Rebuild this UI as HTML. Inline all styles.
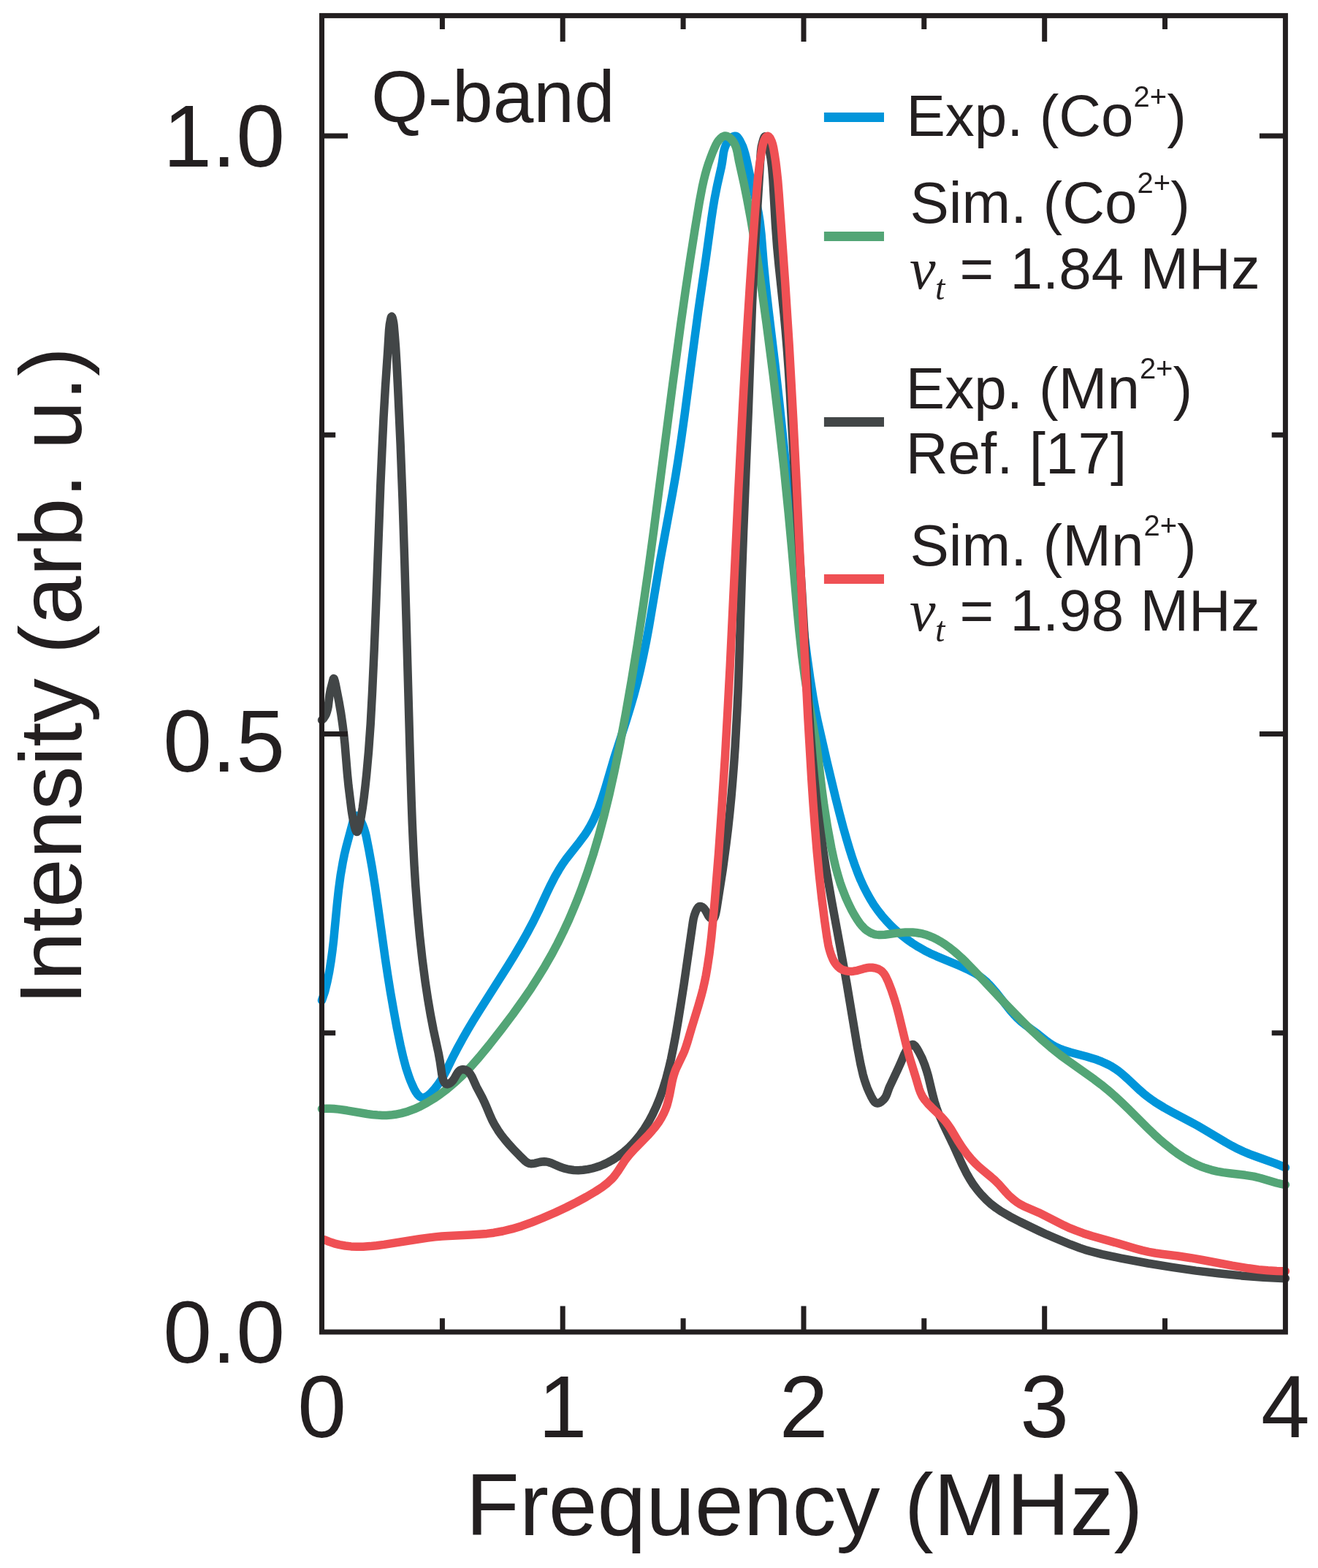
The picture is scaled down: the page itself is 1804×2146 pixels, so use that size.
<!DOCTYPE html>
<html lang="en"><head><meta charset="utf-8"><title>Q-band spectrum</title>
<style>html,body{margin:0;padding:0;background:#fff}body{width:1804px;height:2146px;overflow:hidden}svg{display:block}text{font-family:"Liberation Sans",Arial,Helvetica,sans-serif;fill:#231f20}.it{font-family:"Liberation Serif","Times New Roman",serif;font-style:italic}</style></head><body>
<svg xmlns="http://www.w3.org/2000/svg" width="1804" height="2146" viewBox="0 0 1804 2146">
<rect width="1804" height="2146" fill="#fff"/>
<g fill="none" stroke-width="11.5" stroke-linejoin="round" stroke-linecap="round">
<path stroke="#0095da" d="M440.5 1369.2L444.7 1356.9 447.9 1343.7 450.7 1329.9 453.1 1315.0 454.9 1301.8 456.6 1287.3 461.4 1237.0 463.5 1217.7 466.1 1198.2 469.1 1180.9 471.4 1169.5 474.2 1157.9 483.7 1122.6 485.1 1119.1 485.8 1117.8 486.4 1117.0 487.2 1116.5 488.0 1116.3 488.7 1116.5 489.6 1117.1 491.5 1119.5 494.1 1124.0 496.3 1128.7 498.2 1133.8 499.8 1139.0 501.3 1144.8 504.9 1163.2 509.2 1187.0 513.4 1213.3 517.1 1239.1 527.1 1310.6 530.7 1334.6 534.3 1357.1 538.8 1382.8 543.3 1407.2 548.0 1430.2 552.0 1447.5 555.9 1461.9 559.7 1473.4 562.1 1479.7 564.9 1486.1 567.1 1490.9 569.2 1494.5 571.1 1497.3 573.0 1499.4 574.8 1501.0 576.6 1502.0 578.5 1502.4 580.4 1502.2 582.4 1501.5 584.6 1500.2 586.7 1498.7 589.1 1496.6 594.3 1491.0 599.5 1484.4 604.2 1477.3 607.3 1472.1 610.3 1466.4 620.2 1446.1 626.2 1434.5 632.8 1422.4 640.1 1409.7 647.7 1396.9 656.5 1382.7 695.3 1321.6 704.0 1307.4 711.8 1294.3 721.3 1277.5 729.7 1261.7 736.7 1247.5 748.7 1221.6 753.8 1211.1 759.4 1200.2 764.8 1190.8 769.7 1183.0 774.8 1175.8 780.1 1168.9 793.7 1151.7 800.5 1142.5 803.8 1137.5 806.9 1132.3 809.9 1126.9 812.8 1121.1 815.9 1114.2 819.0 1106.9 821.9 1099.0 824.8 1090.3 828.8 1077.7 840.6 1037.6 857.2 986.2 862.7 968.3 867.8 950.9 872.2 934.3 876.5 916.3 880.7 897.1 884.6 877.8 888.5 856.6 903.4 768.2 920.7 674.3 924.6 652.1 928.3 628.9 932.6 600.0 937.1 567.6 950.8 462.9 955.8 425.5 966.4 352.5 973.6 300.4 975.8 285.6 978.0 272.4 981.6 254.0 987.4 228.2 988.6 221.5 990.3 209.2 991.1 205.6 992.0 202.4 993.2 199.2 994.8 196.1 996.6 193.3 998.5 190.9 1000.7 188.7 1003.0 187.1 1005.1 186.2 1006.8 186.2 1008.2 186.7 1009.8 188.1 1011.3 190.1 1013.0 193.0 1014.9 196.8 1016.6 200.5 1018.1 204.7 1019.5 209.3 1021.6 217.5 1026.5 240.3 1035.6 278.6 1038.2 291.4 1040.0 302.8 1042.0 320.3 1045.3 361.5 1048.2 391.6 1051.7 422.4 1060.7 497.2 1066.3 546.8 1072.5 605.8 1086.6 741.9 1093.5 806.2 1099.2 855.0 1104.7 898.8 1108.9 928.9 1113.1 955.1 1116.2 972.3 1119.5 988.4 1132.0 1043.1 1144.0 1093.2 1149.2 1113.7 1154.2 1132.6 1158.7 1148.3 1162.9 1162.5 1166.7 1174.4 1170.4 1185.1 1174.2 1195.2 1178.1 1204.7 1182.2 1213.6 1186.5 1222.0 1191.1 1230.3 1196.0 1238.2 1201.3 1245.7 1206.9 1252.9 1213.0 1260.0 1219.4 1266.8 1226.2 1273.2 1233.5 1279.5 1241.2 1285.5 1249.0 1291.0 1257.1 1296.1 1265.4 1300.8 1273.0 1304.7 1281.7 1308.6 1312.1 1321.3 1323.7 1326.4 1329.0 1329.1 1333.9 1331.7 1338.3 1334.4 1342.3 1337.2 1346.0 1340.1 1349.9 1343.4 1353.7 1347.2 1357.6 1351.4 1364.7 1359.8 1377.6 1376.3 1382.7 1382.7 1388.2 1389.0 1393.5 1394.4 1397.7 1398.3 1402.5 1402.1 1420.5 1415.2 1432.7 1425.0 1437.6 1428.5 1441.5 1430.9 1445.5 1433.0 1450.0 1435.0 1454.9 1436.9 1465.3 1440.2 1487.1 1446.0 1496.8 1448.9 1502.4 1450.8 1507.8 1452.9 1512.9 1455.2 1517.7 1457.5 1522.3 1460.1 1526.7 1462.9 1530.8 1465.8 1535.2 1469.2 1543.0 1476.1 1560.7 1492.7 1565.3 1496.7 1570.1 1500.5 1575.3 1504.4 1580.9 1508.3 1586.9 1512.0 1593.4 1516.0 1605.1 1522.5 1629.0 1535.1 1639.0 1540.5 1649.2 1546.4 1677.3 1563.3 1686.1 1568.2 1694.0 1572.3 1701.9 1576.0 1710.5 1579.6 1719.7 1583.0 1745.1 1592.1 1752.8 1595.1 1759.4 1597.9"/>
<path stroke="#53a576" d="M440.5 1517.6L445.8 1517.3 451.2 1517.2 457.1 1517.5 463.3 1518.1 474.9 1519.8 502.5 1524.5 509.8 1525.5 516.5 1526.1 523.0 1526.5 529.1 1526.5 534.9 1526.1 540.9 1525.3 549.4 1523.6 558.1 1521.2 566.9 1517.9 575.7 1513.9 584.6 1509.2 593.7 1503.7 602.7 1497.5 611.8 1490.6 622.7 1481.4 633.5 1471.2 644.6 1459.7 655.9 1446.9 669.4 1430.5 686.3 1408.9 702.0 1388.1 715.9 1368.7 726.9 1352.7 736.8 1337.2 746.0 1322.2 754.6 1307.2 762.9 1291.6 770.9 1275.5 778.6 1259.0 785.9 1241.8 790.5 1230.5 795.0 1218.9 803.6 1195.0 811.8 1170.0 819.5 1144.0 826.8 1116.6 833.9 1087.6 840.8 1056.5 847.8 1022.6 856.2 978.0 864.4 931.2 872.4 882.1 880.3 829.6 887.4 780.4 894.8 726.0 920.7 526.0 931.8 443.6 938.2 398.4 944.6 355.5 951.1 314.1 957.4 276.1 961.2 256.0 963.1 247.4 965.1 239.4 967.2 231.8 969.5 224.4 972.1 217.1 974.8 209.9 977.6 203.2 979.8 198.5 981.6 195.1 983.7 192.1 986.2 189.4 988.6 187.4 989.9 186.7 991.1 186.2 992.3 186.0 993.4 186.0 995.5 186.6 997.8 187.8 1000.0 189.6 1002.3 192.0 1004.1 194.6 1005.7 197.5 1007.1 200.6 1008.2 204.1 1009.3 208.7 1011.7 221.6 1018.3 251.3 1022.4 271.7 1027.6 299.4 1032.6 329.2 1036.4 353.1 1040.3 379.0 1049.3 444.3 1058.3 513.6 1066.4 581.5 1073.2 642.0 1079.2 701.8 1083.9 752.1 1090.9 832.2 1093.9 863.3 1097.6 897.2 1101.7 927.9 1106.1 955.9 1113.9 998.3 1116.9 1015.7 1119.6 1035.1 1124.9 1080.2 1127.9 1102.5 1132.5 1131.3 1137.9 1160.4 1140.8 1173.9 1143.7 1186.3 1146.8 1197.5 1150.0 1208.2 1153.6 1218.2 1157.4 1227.8 1161.5 1237.0 1165.8 1245.7 1169.6 1252.5 1173.3 1258.5 1176.6 1263.3 1179.9 1267.3 1183.3 1270.9 1186.8 1273.7 1190.4 1276.0 1194.1 1277.7 1196.6 1278.6 1199.1 1279.1 1202.0 1279.4 1205.0 1279.5 1211.1 1279.2 1228.7 1276.9 1239.2 1276.1 1244.5 1276.0 1249.4 1276.1 1254.1 1276.5 1258.6 1277.2 1263.4 1278.2 1268.2 1279.6 1273.1 1281.4 1278.1 1283.6 1283.2 1286.2 1288.5 1289.2 1293.7 1292.6 1298.8 1296.3 1304.4 1300.7 1310.1 1305.5 1316.1 1310.9 1322.5 1317.2 1339.0 1334.3 1375.3 1372.9 1391.4 1389.6 1408.8 1407.0 1424.7 1421.9 1438.4 1433.7 1451.9 1444.5 1464.5 1453.7 1497.8 1477.3 1507.4 1484.6 1515.9 1491.4 1525.2 1499.5 1535.2 1508.8 1545.2 1518.4 1571.4 1544.5 1579.4 1552.2 1586.6 1558.8 1595.1 1566.1 1603.2 1572.6 1611.1 1578.4 1618.7 1583.6 1628.5 1589.3 1633.5 1591.9 1638.4 1594.2 1643.2 1596.3 1648.2 1598.1 1653.3 1599.8 1658.3 1601.3 1665.8 1603.1 1674.2 1604.6 1682.7 1605.7 1704.4 1608.3 1716.0 1610.2 1725.5 1612.5 1747.4 1619.0 1753.5 1620.4 1759.4 1621.5"/>
<path stroke="#424647" d="M440.5 985.5L442.9 983.1 444.8 980.2 446.4 977.2 447.6 973.6 448.4 970.5 449.2 966.7 451.0 951.4 452.4 944.2 456.2 929.4 456.7 928.6 457.0 928.7 457.4 929.4 458.2 931.9 459.2 936.2 464.2 961.7 466.7 976.3 468.9 991.6 470.6 1004.9 472.0 1018.2 475.4 1059.4 477.0 1075.5 481.1 1108.6 482.3 1116.1 483.6 1123.3 485.2 1130.9 486.6 1135.5 487.7 1138.0 488.3 1138.4 488.8 1138.4 489.4 1137.7 490.0 1136.6 491.2 1132.6 492.8 1125.6 494.6 1115.9 496.3 1105.3 498.2 1091.2 500.0 1075.9 501.7 1059.9 504.6 1027.4 507.2 990.8 509.5 948.0 512.2 889.1 514.6 829.8 520.8 664.1 523.0 614.4 525.0 572.1 527.4 530.2 530.9 478.3 532.5 452.2 533.3 444.4 534.7 436.9 535.2 434.7 535.7 433.6 536.1 433.2 536.5 433.5 537.1 434.8 537.8 437.4 538.6 441.3 539.1 445.0 540.4 459.9 541.6 475.6 542.9 497.0 544.6 531.0 548.1 607.7 551.0 683.2 553.7 767.2 556.1 849.7 561.3 1036.1 563.1 1094.6 564.3 1127.2 565.6 1156.4 567.0 1184.0 568.6 1210.0 571.3 1245.8 574.4 1280.0 578.0 1312.6 582.1 1344.1 585.6 1367.1 589.3 1388.7 593.2 1409.1 600.2 1441.4 602.2 1452.4 604.7 1469.7 605.5 1473.8 606.3 1476.9 607.6 1480.3 608.4 1481.6 609.3 1482.7 610.3 1483.4 611.2 1483.8 612.2 1483.9 613.3 1483.7 614.7 1483.2 616.5 1482.0 618.2 1480.6 619.6 1479.1 621.8 1476.0 625.0 1470.4 626.5 1468.0 628.0 1466.2 629.8 1464.7 631.1 1464.1 632.5 1463.8 634.0 1463.7 635.8 1463.9 637.1 1464.3 638.7 1465.0 640.1 1465.9 641.4 1467.0 643.8 1470.0 646.2 1474.2 652.3 1487.6 660.1 1502.3 662.7 1507.7 665.2 1513.3 670.8 1526.7 673.6 1533.0 677.4 1540.1 681.7 1547.1 686.0 1553.3 690.9 1559.5 696.4 1566.0 702.7 1572.8 710.9 1581.3 718.1 1588.4 721.4 1591.0 722.9 1591.8 724.4 1592.3 726.6 1592.7 729.1 1592.6 732.1 1592.1 738.6 1590.5 741.7 1590.0 744.7 1589.8 748.0 1590.0 751.1 1590.7 754.5 1591.8 766.5 1597.0 771.8 1598.9 778.4 1600.5 785.4 1601.5 791.5 1601.7 798.0 1601.3 804.5 1600.4 810.9 1599.0 815.2 1597.8 819.8 1596.3 824.3 1594.5 828.7 1592.6 833.1 1590.4 837.5 1588.0 841.9 1585.3 846.1 1582.5 850.2 1579.5 854.1 1576.4 857.9 1573.2 861.7 1569.6 865.4 1565.9 869.0 1562.0 875.8 1553.7 881.9 1545.1 887.7 1535.6 893.1 1525.5 898.3 1514.4 903.0 1502.9 907.5 1490.2 911.6 1476.9 915.3 1462.8 918.5 1449.2 921.5 1434.4 924.8 1417.2 928.5 1395.5 932.2 1372.4 936.2 1346.7 948.2 1263.3 949.2 1257.4 950.4 1252.8 952.3 1247.5 953.5 1245.0 954.8 1242.9 955.7 1241.7 956.8 1240.9 957.7 1240.4 958.7 1240.4 960.0 1240.8 961.4 1241.5 962.8 1242.6 964.2 1244.0 966.0 1246.5 969.5 1253.2 971.0 1255.1 972.7 1256.7 974.3 1257.7 975.1 1257.9 975.8 1257.9 976.4 1257.6 977.0 1257.0 977.9 1255.5 978.7 1253.4 979.6 1250.3 980.9 1243.7 989.3 1189.8 994.0 1154.8 996.5 1134.2 998.8 1113.0 1000.9 1091.4 1002.8 1069.0 1004.6 1045.9 1006.2 1022.0 1009.0 970.8 1010.5 938.5 1011.8 902.6 1015.7 779.5 1017.6 727.6 1024.3 562.3 1029.4 419.5 1031.0 382.4 1032.7 349.3 1041.4 207.5 1042.3 200.6 1043.9 194.1 1045.0 190.5 1046.0 188.0 1046.8 186.9 1047.1 186.7 1047.5 186.7 1048.3 187.8 1049.3 190.6 1051.2 197.5 1052.8 204.3 1055.0 216.1 1056.6 228.8 1057.9 245.2 1061.4 307.1 1063.7 338.3 1066.2 364.8 1073.1 429.8 1075.2 452.7 1077.2 476.7 1079.3 505.6 1081.3 537.5 1088.6 667.1 1097.6 809.6 1104.1 922.8 1106.8 966.3 1109.1 1000.7 1111.6 1032.3 1114.3 1061.8 1117.1 1089.8 1120.0 1115.2 1123.2 1139.5 1126.6 1163.0 1130.5 1188.2 1138.4 1233.4 1153.3 1314.2 1158.9 1345.4 1173.7 1434.3 1177.9 1456.4 1181.2 1470.8 1183.1 1477.4 1185.1 1483.6 1187.2 1489.3 1189.6 1494.8 1192.4 1500.6 1195.3 1505.8 1197.1 1508.1 1198.9 1509.5 1200.1 1509.9 1201.1 1510.0 1202.1 1509.9 1203.5 1509.4 1206.3 1507.8 1209.1 1505.3 1211.4 1502.5 1213.1 1499.4 1214.2 1496.7 1216.5 1490.1 1218.2 1486.1 1229.2 1462.8 1233.3 1453.6 1237.6 1443.4 1239.6 1439.5 1242.6 1434.7 1244.1 1432.8 1245.5 1431.5 1246.9 1430.4 1248.3 1429.7 1249.4 1429.6 1250.5 1429.9 1251.9 1430.9 1253.4 1432.6 1255.0 1435.0 1257.6 1439.5 1262.1 1448.4 1265.7 1457.4 1268.1 1464.6 1270.4 1472.4 1276.6 1498.3 1279.1 1507.8 1281.9 1516.6 1285.2 1525.4 1290.9 1538.0 1304.2 1565.7 1316.6 1593.1 1322.4 1604.8 1327.4 1613.6 1332.3 1621.3 1337.8 1628.6 1343.7 1635.6 1349.9 1642.0 1356.4 1647.9 1363.5 1653.3 1371.1 1658.4 1382.1 1664.8 1395.9 1672.0 1422.8 1685.0 1432.7 1689.6 1441.9 1693.6 1465.2 1703.2 1478.3 1708.1 1485.1 1710.4 1492.3 1712.5 1508.3 1716.6 1520.1 1719.2 1534.4 1722.1 1571.3 1729.0 1604.3 1734.4 1636.9 1739.1 1668.0 1742.8 1699.0 1745.9 1729.4 1748.2 1759.4 1749.7"/>
<path stroke="#ef5054" d="M443.5 1696.5L450.4 1699.4 457.6 1701.8 464.9 1703.6 472.5 1705.0 480.4 1705.9 488.5 1706.3 497.2 1706.2 506.5 1705.6 515.4 1704.7 525.7 1703.4 574.0 1695.7 585.4 1694.1 595.5 1692.9 604.7 1692.0 613.9 1691.4 644.6 1690.0 655.7 1689.3 666.4 1688.4 675.9 1687.2 688.0 1685.0 700.7 1681.9 714.1 1677.9 728.1 1672.8 742.7 1667.0 759.5 1659.7 775.0 1652.5 789.1 1645.4 802.5 1638.1 815.2 1630.6 824.2 1624.7 831.5 1619.1 837.2 1613.8 839.5 1611.3 841.8 1608.5 845.7 1603.1 854.9 1588.8 858.1 1584.5 861.7 1580.1 869.4 1571.7 888.2 1552.4 892.8 1547.2 896.7 1542.5 901.1 1536.6 904.8 1530.7 908.1 1524.6 910.9 1518.4 913.0 1512.5 914.8 1505.8 916.4 1498.8 919.9 1480.6 921.2 1475.2 922.6 1470.4 924.0 1466.2 925.7 1461.9 934.9 1442.8 936.9 1438.2 938.7 1433.1 940.9 1426.4 946.7 1406.6 955.7 1377.3 960.1 1361.9 962.3 1353.3 964.3 1344.5 966.2 1335.3 967.9 1325.6 971.0 1305.1 973.8 1281.8 975.7 1261.8 978.5 1230.8 983.6 1167.6 988.1 1103.5 992.5 1034.9 995.8 975.7 999.3 910.2 1010.8 668.9 1016.5 558.5 1019.8 499.3 1023.1 443.0 1026.5 389.2 1030.0 337.4 1033.4 291.2 1035.8 260.9 1037.7 240.8 1039.9 223.1 1042.7 205.2 1043.7 199.6 1044.7 195.7 1046.0 192.0 1047.7 188.8 1049.2 187.0 1050.1 186.5 1050.8 186.3 1051.7 186.6 1052.5 187.2 1053.5 188.2 1054.4 189.6 1056.1 193.2 1057.5 197.3 1058.6 202.1 1060.3 211.8 1061.7 221.0 1062.9 230.8 1064.6 246.3 1066.1 264.7 1074.6 385.4 1080.3 474.0 1085.7 572.0 1090.4 665.1 1100.6 880.4 1105.9 983.2 1110.8 1066.6 1113.0 1099.9 1115.3 1130.4 1118.2 1165.5 1121.4 1198.5 1124.9 1230.1 1128.7 1260.3 1131.9 1282.6 1133.8 1293.6 1135.0 1298.6 1136.4 1303.4 1137.9 1307.8 1139.6 1311.9 1141.2 1315.2 1142.9 1318.0 1144.7 1320.5 1146.7 1322.7 1148.8 1324.6 1151.1 1326.1 1153.5 1327.3 1156.0 1328.2 1158.9 1328.9 1161.9 1329.3 1165.0 1329.4 1168.2 1329.2 1173.3 1328.3 1182.3 1325.7 1186.0 1324.8 1190.0 1324.3 1194.0 1324.3 1196.6 1324.7 1199.0 1325.2 1201.2 1325.9 1203.3 1326.8 1205.1 1327.9 1206.9 1329.2 1208.4 1330.8 1209.9 1332.5 1211.3 1334.6 1212.8 1337.3 1216.0 1344.2 1220.2 1355.1 1224.1 1366.9 1227.1 1376.8 1230.0 1387.8 1240.3 1430.0 1245.1 1447.8 1253.4 1474.5 1258.0 1490.2 1260.1 1495.7 1262.4 1500.4 1265.8 1505.4 1270.2 1510.7 1275.0 1515.6 1288.1 1528.1 1291.8 1532.1 1295.0 1535.9 1298.1 1540.1 1301.4 1545.0 1312.0 1562.7 1316.8 1570.1 1323.0 1578.7 1329.5 1586.5 1334.7 1592.0 1340.1 1597.1 1345.1 1601.4 1356.7 1611.0 1362.3 1615.9 1367.1 1620.8 1376.9 1631.9 1381.3 1636.5 1386.8 1641.4 1392.1 1645.5 1396.3 1648.2 1401.1 1650.7 1421.9 1659.7 1430.3 1663.9 1456.2 1677.1 1464.5 1680.9 1472.7 1684.2 1482.9 1687.9 1494.9 1691.7 1530.6 1701.7 1553.9 1708.7 1563.6 1711.4 1572.4 1713.4 1581.4 1715.0 1589.9 1716.2 1612.4 1719.0 1630.1 1721.7 1646.0 1724.5 1686.5 1732.1 1709.0 1735.8 1722.7 1737.6 1735.5 1738.8 1747.6 1739.6 1759.4 1739.8"/>
</g>
<g stroke="#231f20" stroke-width="7" fill="none">
<rect x="440.5" y="21.4" width="1318.9" height="1801.6"/>
<path d="M605.4 1823.0v-18.7M605.4 21.4v18.7M770.2 1823.0v-35.5M770.2 21.4v35.5M935.1 1823.0v-18.7M935.1 21.4v18.7M1100.0 1823.0v-35.5M1100.0 21.4v35.5M1264.8 1823.0v-18.7M1264.8 21.4v18.7M1429.7 1823.0v-35.5M1429.7 21.4v35.5M1594.5 1823.0v-18.7M1594.5 21.4v18.7M440.5 1413.7h18.7M1759.4 1413.7h-18.7M440.5 1004.5h35.5M1759.4 1004.5h-35.5M440.5 595.2h18.7M1759.4 595.2h-18.7M440.5 185.9h35.5M1759.4 185.9h-35.5"/>
</g>
<g stroke-width="13" fill="none">
<path stroke="#0095da" d="M1127.9 160.4H1210"/>
<path stroke="#53a576" d="M1127.9 323.5H1210"/>
<path stroke="#424647" d="M1127.9 577.4H1210"/>
<path stroke="#ef5054" d="M1127.9 792.4H1210"/>
</g>
<g font-size="120">
<text x="390" y="227.6" text-anchor="end">1.0</text>
<text x="390" y="1055.6" text-anchor="end">0.5</text>
<text x="390" y="1864.9" text-anchor="end">0.0</text>
<text x="440.5" y="1967.3" text-anchor="middle">0</text>
<text x="770.2" y="1967.3" text-anchor="middle">1</text>
<text x="1100.0" y="1967.3" text-anchor="middle">2</text>
<text x="1429.7" y="1967.3" text-anchor="middle">3</text>
<text x="1759.4" y="1967.3" text-anchor="middle">4</text>
<text x="1101" y="2101.2" text-anchor="middle">Frequency (MHz)</text>
<text transform="translate(110.7 1375.5) rotate(-90)">Intensity (arb. u.)</text>
</g>
<text x="508" y="167.1" font-size="100">Q-band</text>
<g font-size="80">
<text x="1240.4" y="186.1">Exp. (Co<tspan font-size="40" dy="-40.5">2+</tspan><tspan dy="40.5">)</tspan></text>
<text x="1245.4" y="304.6">Sim. (Co<tspan font-size="40" dy="-40.5">2+</tspan><tspan dy="40.5">)</tspan></text>
<text x="1239.8" y="558.8">Exp. (Mn<tspan font-size="40" dy="-40.5">2+</tspan><tspan dy="40.5">)</tspan></text>
<text x="1239.8" y="647.9">Ref. [17]</text>
<text x="1245.4" y="773.9">Sim. (Mn<tspan font-size="40" dy="-40.5">2+</tspan><tspan dy="40.5">)</tspan></text>
<text class="it" x="1245.0" y="394.9">v</text>
<text class="it" x="1280.0" y="409.9" font-size="48">t</text>
<text x="1313.5" y="394.9">= 1.84 MHz</text>
<text class="it" x="1245.0" y="862.8">v</text>
<text class="it" x="1280.0" y="877.8" font-size="48">t</text>
<text x="1313.5" y="862.8">= 1.98 MHz</text>
</g>
</svg></body></html>
